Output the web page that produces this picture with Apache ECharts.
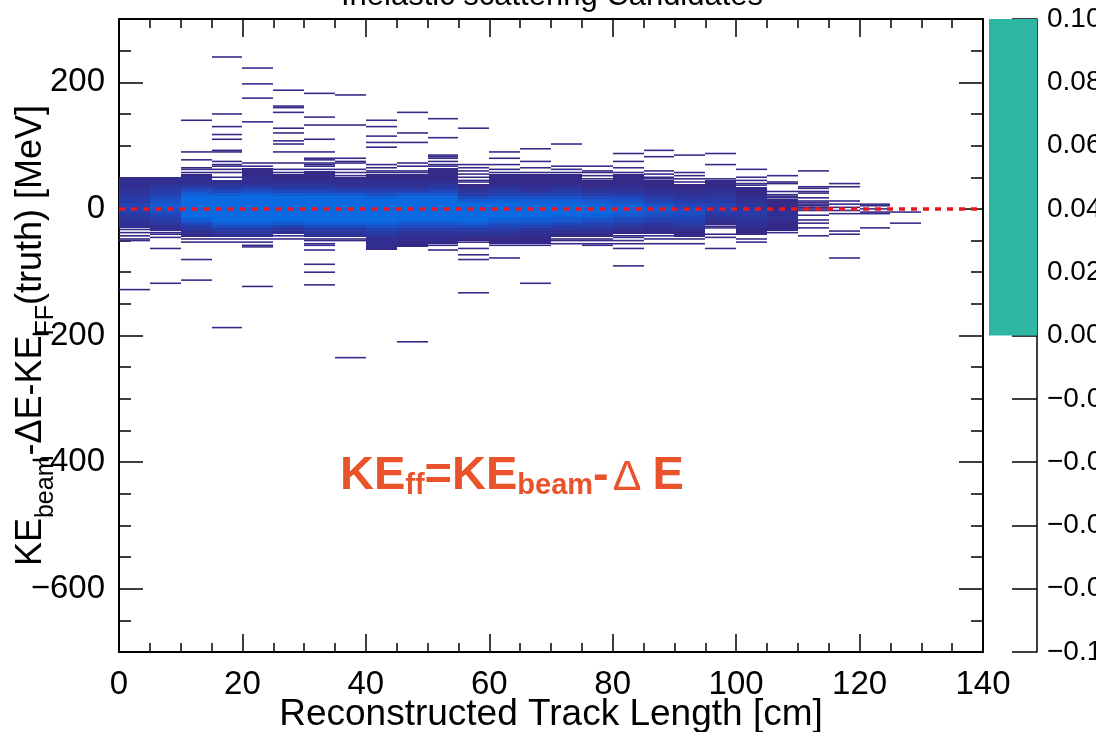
<!DOCTYPE html>
<html>
<head>
<meta charset="utf-8">
<script src="https://cdn.jsdelivr.net/npm/echarts@6/dist/echarts.min.js"></script>
<style>
  html, body { margin: 0; padding: 0; background: #fff; }
  #chart { width: 1096px; height: 732px; }
</style>
</head>
<body>
<div id="chart"></div>
<script>
// track length bin centres [cm], bins are 5 cm wide
const trackLen = [2.5, 7.5, 12.5, 17.5, 22.5, 27.5, 32.5, 37.5, 42.5, 47.5, 52.5, 57.5, 62.5,
  67.5, 72.5, 77.5, 82.5, 87.5, 92.5, 97.5, 102.5, 107.5, 112.5, 117.5, 122.5, 127.5];

// dense band per column: lower edge [MeV] and entries in 5 MeV rows going up
const coreLow = [-30, -35, -45, -45, -45, -40, -45, -45, -65, -60, -55, -50, -55,
  -55, -45, -45, -40, -40, -45, -25, -40, -35, 0, 0, 0, 0];
const coreCounts = [
  [2, 2, 3, 3, 4, 5, 5, 5, 4, 4, 3, 3, 2, 2, 2, 1],
  [2, 2, 3, 4, 5, 6, 7, 8, 8, 7, 6, 5, 4, 3, 3, 2, 2],
  [1, 2, 3, 4, 6, 9, 12, 15, 17, 18, 17, 15, 12, 9, 7, 5, 3, 2, 2, 1],
  [2, 3, 4, 6, 9, 13, 18, 22, 24, 24, 21, 17, 13, 9, 6, 4, 3, 2],
  [2, 3, 4, 6, 9, 13, 18, 22, 25, 25, 22, 18, 14, 10, 7, 5, 3, 2, 2, 1, 1, 1],
  [2, 3, 5, 8, 12, 17, 21, 24, 24, 21, 17, 13, 9, 6, 4, 3, 2, 1, 1],
  [2, 3, 4, 6, 9, 13, 18, 22, 24, 23, 20, 16, 12, 8, 6, 4, 3, 2, 1, 1, 1],
  [2, 3, 4, 6, 9, 13, 17, 21, 23, 22, 19, 15, 11, 8, 5, 4, 2, 2, 1],
  [1, 2, 2, 2, 3, 4, 5, 7, 10, 13, 17, 20, 22, 21, 18, 14, 10, 7, 5, 3, 2, 2, 1, 1],
  [1, 1, 2, 2, 3, 4, 6, 8, 11, 15, 18, 21, 21, 19, 15, 11, 8, 5, 3, 2, 2, 1, 1],
  [1, 2, 2, 3, 4, 6, 8, 11, 14, 17, 19, 19, 17, 14, 11, 8, 6, 4, 3, 2, 1, 1, 1, 1],
  [1, 2, 3, 4, 6, 9, 12, 15, 17, 17, 15, 12, 9, 6, 4, 3, 2, 1],
  [1, 1, 2, 3, 4, 5, 7, 10, 12, 14, 15, 14, 12, 10, 7, 5, 4, 3, 2, 1, 1, 1],
  [1, 1, 2, 2, 3, 5, 7, 9, 11, 13, 14, 13, 11, 9, 7, 5, 3, 2, 2, 1, 1, 1],
  [1, 2, 3, 4, 6, 8, 10, 12, 13, 13, 11, 9, 7, 5, 4, 3, 2, 1, 1, 1],
  [1, 2, 3, 4, 5, 7, 9, 11, 12, 11, 10, 8, 6, 4, 3, 2, 1, 1],
  [1, 2, 3, 4, 6, 7, 9, 10, 10, 9, 7, 6, 4, 3, 2, 2, 1, 1, 1],
  [1, 2, 2, 3, 5, 6, 7, 8, 8, 7, 5, 4, 3, 2, 2, 1, 1],
  [1, 1, 2, 3, 4, 5, 6, 7, 7, 6, 5, 4, 3, 2, 2, 1, 1],
  [1, 2, 3, 4, 5, 5, 5, 4, 3, 3, 2, 2, 1, 1],
  [1, 1, 2, 2, 3, 3, 4, 4, 3, 3, 2, 2, 1, 1, 1],
  [1, 1, 1, 2, 2, 2, 2, 1, 1, 1],
  [], [], [], []
];

// single entries outside the band, per column [MeV]
const sparseY = [
  [-32.5, -37.5, -42.5, -47.5, -50, -127.5],
  [-37.5, -40, -45, -62.5, -117.5],
  [140, 90, 77.5, 65, 62.5, 57.5, -47.5, -52.5, -80, -112.5],
  [240, 150, 130, 117.5, 110, 92.5, 90, 75, 70, 67.5, 62.5, 57.5, 50, -47.5, -52.5, -187.5],
  [222.5, 197.5, 175, 137.5, 72.5, 67.5, -47.5, -52.5, -57.5, -60, -122.5],
  [187.5, 162.5, 160, 152.5, 127.5, 120, 107.5, 102.5, 90, 72.5, 62.5, 57.5, -42.5, -47.5],
  [182.5, 145, 132.5, 110, 90, 80, 77.5, 72.5, 70, 67.5, 62.5, -47.5, -50, -55, -57.5, -65, -87.5, -100, -120],
  [180, 132.5, 80, 75, 72.5, 62.5, 57.5, 52.5, -47.5, -50, -235],
  [140, 130, 115, 105, 97.5, 70, 65, 60, 57.5],
  [152.5, 120, 105, 72.5, 67.5, 60, 57.5, -210],
  [142.5, 112.5, 85, 82.5, 80, 75, 70, 67.5, -57.5, -65],
  [127.5, 70, 65, 60, 55, 50, 45, 42.5, -52.5, -62.5, -72.5, -80, -132.5],
  [90, 80, 70, 62.5, 57.5, -57.5, -77.5],
  [95, 75, 65, 57.5, -57.5, -117.5],
  [102.5, 67.5, 62.5, 57.5, -47.5, -50, -55],
  [67.5, 60, 57.5, 52.5, 47.5, -47.5, -50, -55, -57.5],
  [87.5, 75, 65, 57.5, -42.5, -45, -50, -55, -62.5, -90],
  [92.5, 82.5, 60, 55, 50, 47.5, -42.5, -47.5, -55],
  [85, 57.5, 52.5, 47.5, 42.5, -47.5, -55],
  [87.5, 70, 47.5, -27.5, -30, -40, -45, -62.5],
  [62.5, 50, 45, 40, 37.5, -40, -47.5, -52.5],
  [52.5, 42.5, 40, 27.5, 22.5, 20, 17.5, -37.5],
  [60, 35, 32.5, 27.5, 25, 17.5, 12.5, 10, 7.5, 5, 2.5, 0, -2.5, -10, -17.5, -22.5, -30, -42.5],
  [40, 35, 12.5, 7.5, 2.5, -2.5, -7.5, -35, -40, -77.5],
  [7.5, 5, 0, -5, -7.5, -30],
  [-5, -22.5]
];

const yMajorTicks = [-600, -400, -200, 0, 200];
const zeroLine = [[0, 0], [140, 0]];
const zAxisFill = [0.1];

const BIN_W = 5;
const CORE_H = 5;
const SPARSE_H = 2.5;
const FONT = '"Liberation Sans", Arial, Helvetica, sans-serif';

let coreData = [];
trackLen.forEach((x, c) => {
  coreCounts[c].forEach((n, i) => {
    coreData.push([x, coreLow[c] + CORE_H * i + CORE_H / 2, n]);
  });
});
let sparseData = [];
trackLen.forEach((x, c) => {
  sparseY[c].forEach((y) => sparseData.push([x, y, 1]));
});

function cellRenderer(binH, snapY) {
  return function (params, api) {
    const x = api.value(0);
    const y = api.value(1);
    const p0 = api.coord([x - BIN_W / 2, y + binH / 2]);
    const p1 = api.coord([x + BIN_W / 2, y - binH / 2]);
    const left = Math.round(p0[0]);
    const right = Math.round(p1[0]);
    const top = snapY ? Math.round(p0[1]) : p0[1];
    const bottom = snapY ? Math.round(p1[1]) : p1[1];
    return {
      type: 'rect',
      shape: {x: left, y: top, width: right - left, height: bottom - top},
      style: {fill: api.visual('color')}
    };
  };
}

const black = '#000';
const tickStyle = {color: black, width: 1.5};

function xAxisCfg(pos, labels) {
  return {
    type: 'value', gridIndex: 0, position: pos, min: 0, max: 140, interval: 20,
    axisLine: {show: true, onZero: false, lineStyle: {color: black, width: 2}},
    axisTick: {show: true, inside: true, length: 18, lineStyle: tickStyle},
    minorTick: {show: true, splitNumber: 4, length: 9, lineStyle: tickStyle},
    axisLabel: {show: labels, color: black, fontSize: 33, fontFamily: FONT, margin: 16},
    splitLine: {show: false}
  };
}

function yMajorCfg(pos, labels) {
  return {
    type: 'value', gridIndex: 0, position: pos, min: -700, max: 300,
    axisLine: {show: true, onZero: false, lineStyle: {color: black, width: 2}},
    axisTick: {show: true, inside: true, length: 24, lineStyle: tickStyle, customValues: yMajorTicks},
    axisLabel: {
      show: labels, customValues: yMajorTicks, color: black, fontSize: 33, fontFamily: FONT, margin: 14,
      formatter: (v) => (v < 0 ? '\u2212' + (-v) : String(v))
    },
    splitLine: {show: false}
  };
}

function yMinorCfg(pos) {
  return {
    type: 'value', gridIndex: 0, position: pos, min: -700, max: 300, interval: 50,
    axisLine: {show: false, onZero: false},
    axisTick: {show: true, inside: true, length: 12, lineStyle: tickStyle},
    axisLabel: {show: false},
    splitLine: {show: false}
  };
}

let yLeft = yMajorCfg('left', true);
yLeft.name = '{m|KE}{s|beam}{m|-\u0394E-KE}{s|FF}{m|(truth) [MeV]}';
yLeft.nameLocation = 'middle';
yLeft.nameRotate = 90;
yLeft.nameGap = 60;
yLeft.nameMoveOverlap = false;
yLeft.nameTextStyle = {
  color: black, fontFamily: FONT,
  rich: {
    m: {fontSize: 36, lineHeight: 46, verticalAlign: 'top', fontFamily: FONT, color: black},
    s: {fontSize: 25, lineHeight: 46, verticalAlign: 'bottom', fontFamily: FONT, color: black}
  }
};

let xBottom = xAxisCfg('bottom', true);
xBottom.name = 'Reconstructed Track Length [cm]';
xBottom.nameLocation = 'middle';
xBottom.nameGap = 44;
xBottom.nameMoveOverlap = false;
xBottom.nameTextStyle = {color: black, fontSize: 37, fontFamily: FONT};

let chartDom = document.getElementById('chart');
let myChart = echarts.init(chartDom);
let option;

option = {
  backgroundColor: '#fff',
  animation: false,
  grid: [
    {left: 119, right: 113, top: 19, bottom: 80, outerBoundsMode: 'none', containLabel: false},
    {left: 989, right: 59, top: 19, bottom: 80, outerBoundsMode: 'none', containLabel: false}
  ],
  xAxis: [
    xBottom,
    xAxisCfg('top', false),
    {type: 'category', gridIndex: 1, data: ['z'], show: false}
  ],
  yAxis: [
    yLeft,
    yMinorCfg('left'),
    yMajorCfg('right', false),
    yMinorCfg('right'),
    {
      type: 'value', gridIndex: 1, position: 'right', min: -0.1, max: 0.1, interval: 0.02,
      axisLine: {show: true, onZero: false, lineStyle: {color: black, width: 1.5}},
      axisTick: {show: true, inside: true, length: 25, lineStyle: tickStyle},
      axisLabel: {
        color: black, fontSize: 28, fontFamily: FONT, margin: 10,
        formatter: (v) => (v < -1e-9 ? '\u2212' : '') + Math.abs(v).toFixed(2)
      },
      splitLine: {show: false}
    }
  ],
  visualMap: {
    type: 'continuous', show: false, dimension: 2, seriesIndex: [0, 1],
    min: 1, max: 12,
    inRange: {color: ['#352a87', '#2540b0', '#135ad2', '#0a6ae2']}
  },
  graphic: [
    {
      type: 'text', x: 552, y: 12,
      style: {
        text: 'Inelastic scattering Candidates', fill: black, fontSize: 31, fontFamily: FONT,
        align: 'center', verticalAlign: 'bottom'
      }
    },
    {
      type: 'text', x: 340, y: 474, z: 10,
      style: {
        text: '{m|KE}{s|ff}{m|=KE}{s|beam}{m|-}{d|\u0394}{m|E}',
        align: 'left', verticalAlign: 'middle',
        rich: {
          m: {fontSize: 47, fontWeight: 'bold', fontFamily: FONT, fill: '#e8532b', lineHeight: 52, verticalAlign: 'bottom'},
          s: {fontSize: 29, fontWeight: 'bold', fontFamily: FONT, fill: '#e8532b', lineHeight: 52, verticalAlign: 'bottom'},
          d: {fontSize: 43, fontFamily: FONT, fill: '#e8532b', lineHeight: 52, verticalAlign: 'bottom', padding: [0, 11, 0, 4]}
        }
      }
    }
  ],
  series: [
    {
      type: 'custom', xAxisIndex: 0, yAxisIndex: 0, clip: true,
      renderItem: cellRenderer(CORE_H, true),
      encode: {x: 0, y: 1},
      data: coreData
    },
    {
      type: 'custom', xAxisIndex: 0, yAxisIndex: 0, clip: true,
      renderItem: cellRenderer(SPARSE_H, false),
      encode: {x: 0, y: 1},
      data: sparseData
    },
    {
      type: 'line', xAxisIndex: 0, yAxisIndex: 0, z: 5,
      data: zeroLine, showSymbol: false, symbol: 'none',
      lineStyle: {color: '#ec1520', width: 3.5, type: [6, 6]}
    },
    {
      type: 'bar', xAxisIndex: 2, yAxisIndex: 4, barWidth: '100%',
      data: zAxisFill, itemStyle: {color: '#2db7a3'}
    }
  ]
};

option && myChart.setOption(option);
</script>
</body>
</html>
